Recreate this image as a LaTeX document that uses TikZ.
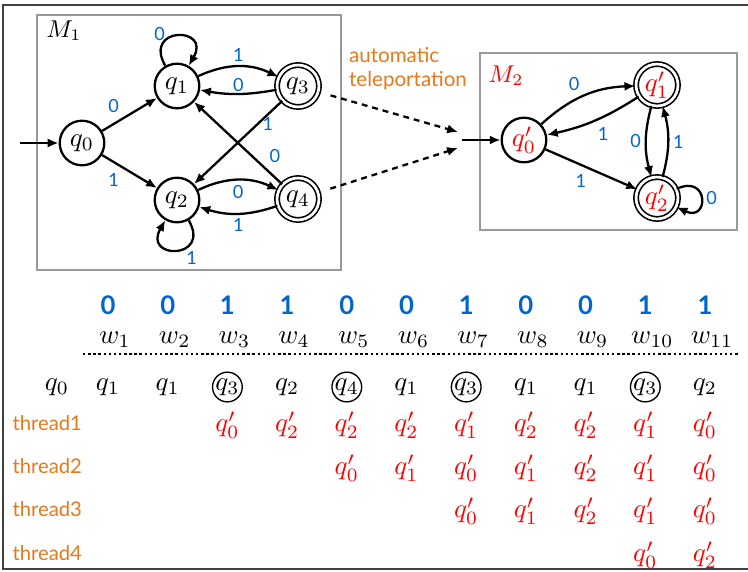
\documentclass[tikz,border=0pt]{standalone}
\usepackage{fontspec}
\setsansfont{Lato}
\usetikzlibrary{arrows.meta}
\definecolor{bitblue}{RGB}{0,102,204}
\definecolor{threadorange}{RGB}{230,120,30}
\tikzset{
    state/.style={circle, draw, line width=0.85pt, minimum size=16.5pt, inner sep=0pt},
    accept/.style={state, double, double distance=1pt, line width=0.6pt, minimum size=15.5pt},
    trans/.style={line width=0.85pt, -{Latex[length=4pt, width=3.4pt]}},
    tele/.style={trans, dash pattern=on 2.2pt off 1.8pt, shorten <=4.5pt},
    lbl/.style={font=\sffamily\fontsize{6.7}{7}\selectfont, text=bitblue, inner sep=1.5pt},
    machine/.style={draw=black!40, line width=0.8pt},
    bit/.style={font=\sffamily\bfseries\fontsize{9.5}{10}\selectfont, text=bitblue},
    thread/.style={font=\sffamily\fontsize{7.5}{8}\selectfont, text=threadorange, anchor=west, inner sep=0pt},
    ringed/.style={circle, draw, line width=0.5pt, inner sep=0pt, minimum size=11pt},
    twin/.style={text=red},
    common settings/.style={
        x={(0.37pt,0)},
        y={(0,-0.37pt)}
    }
}

\begin{document}
\begin{tikzpicture}[common settings]
    \useasboundingbox (0,0) rectangle (748,571);
    \draw[black!75, line width=0.4pt] (748,5) -- (3,5) -- (3,569) -- (748,569);

    \def\colx{108} % first column
    \def\colstep{59.7} % column spacing

    % Machine M1
    \draw[machine] (37,15) rectangle (341,270);
    \node (m1) at (64,31) {\fontsize{9}{11}\selectfont $M_1$};
    \node[state] (q0) at (82,143) {$q_0$};
    \node[state] (q1) at (177,86) {$q_1$};
    \node[state] (q2) at (177,200) {$q_2$};
    \node[accept] (q3) at (298,86) {$q_3$};
    \node[accept] (q4) at (298,199) {$q_4$};
    \coordinate (init) at (20,143);

    \draw[trans] (init) -- (q0);
    \draw[trans] (q0) -- node[lbl, pos=0.4, above left] {0} (q1);
    \draw[trans] (q0) -- node[lbl, pos=0.4, below left] {1} (q2);
    \draw[trans] (q1) to[out=120, in=60, looseness=5] node[lbl, pos=0.3, above left=-2pt] {0} (q1);
    \draw[trans] (q2) to[out=-60, in=-120, looseness=5] node[lbl, pos=0.4, below right=-1pt] {1} (q2);
    \draw[trans] (q1) to[bend left=25] node[lbl, above] {1} (q3);
    \draw[trans] (q3) to[bend left=10] node[lbl, above=-1pt] {0} (q1);
    \draw[trans] (q2) to[bend left=25] node[lbl, below] {0} (q4);
    \draw[trans] (q4) to[bend left=18] node[lbl, below] {1} (q2);
    \draw[trans] (q3) -- node[lbl, pos=0.28, right] {1} (q2);
    \draw[trans] (q4) -- node[lbl, pos=0.2, above right] {0} (q1);

    % Teleportation
    \node[align=left, font=\sffamily\fontsize{7.6}{8.9}\selectfont, text=threadorange] (telelabel) at (408,69) {automatic\\teleportation};
    \coordinate (tpA) at (458,132);
    \coordinate (tpB) at (458,148);
    \coordinate (tpC) at (462,140);
    \draw[tele] (q3) -- (tpA);
    \draw[tele] (q4) -- (tpB);

    % Machine M2
    \draw[machine] (480,53) rectangle (737,230);
    \node[text=red] (m2) at (506,76) {\fontsize{9}{11}\selectfont $M_2$};
    \node[state, text=red] (p0) at (524,140) {$q'_0$};
    \node[accept, text=red] (p1) at (657,85) {$q'_1$};
    \node[accept, text=red] (p2) at (657,198) {$q'_2$};

    \draw[trans] (tpC) -- (p0);
    \draw[trans] (p0) to[bend left=20] node[lbl, above left] {0} (p1);
    \draw[trans] (p1) to[bend left=10] node[lbl, pos=0.4, below=2pt] {1} (p0);
    \draw[trans] (p0) -- node[lbl, below left] {1} (p2);
    \draw[trans] (p1) to[bend right=15] node[lbl, left] {0} (p2);
    \draw[trans] (p2) to[bend right=15] node[lbl, right] {1} (p1);
    \draw[trans] (p2) to[out=25, in=-25, looseness=5] node[lbl, right] {0} (p2);

    % Input word
    \foreach \b [count=\i] in {0,0,1,1,0,0,1,0,0,1,1}
        \node[bit] (b\i) at ({\colx+(\i-1)*\colstep},305) {\b};
    \foreach \i in {1,...,11}
        \node (w\i) at ({\colx+7+(\i-1)*\colstep},340) {$w_{\i}$};
    \draw[line width=0.9pt, dash pattern=on 0.9pt off 1pt] (83,354) -- (738,354);

    % Run of M1
    \node (s0) at (57,387) {$q_0$};
    \foreach \s [count=\i] in {1,1,3,2,4,1,3,1,1,3,2}{
        \ifnum\s>2
            \node[ringed] (s\i) at ({\colx+(\i-1)*\colstep},387) {$q_{\s}$};
        \else
            \node (s\i) at ({\colx+(\i-1)*\colstep},387) {$q_{\s}$};
        \fi
    }

    % Threads of M2
    \foreach \t/\y in {1/423,2/466,3/509,4/553}
        \node[thread] (t\t) at (12,\y) {thread\t};
    \foreach \t/\y/\st/\lst in {1/425/3/{0,2,2,2,1,2,2,1,0}, 2/468/5/{0,1,0,1,2,1,0}, 3/511/7/{0,1,2,1,0}, 4/555/10/{0,2}}
        \foreach \q [count=\k from \st] in \lst
            \node[twin] (r\t-\k) at ({\colx+(\k-1)*\colstep},\y) {$q'_{\q}$};
\end{tikzpicture}
\end{document}
